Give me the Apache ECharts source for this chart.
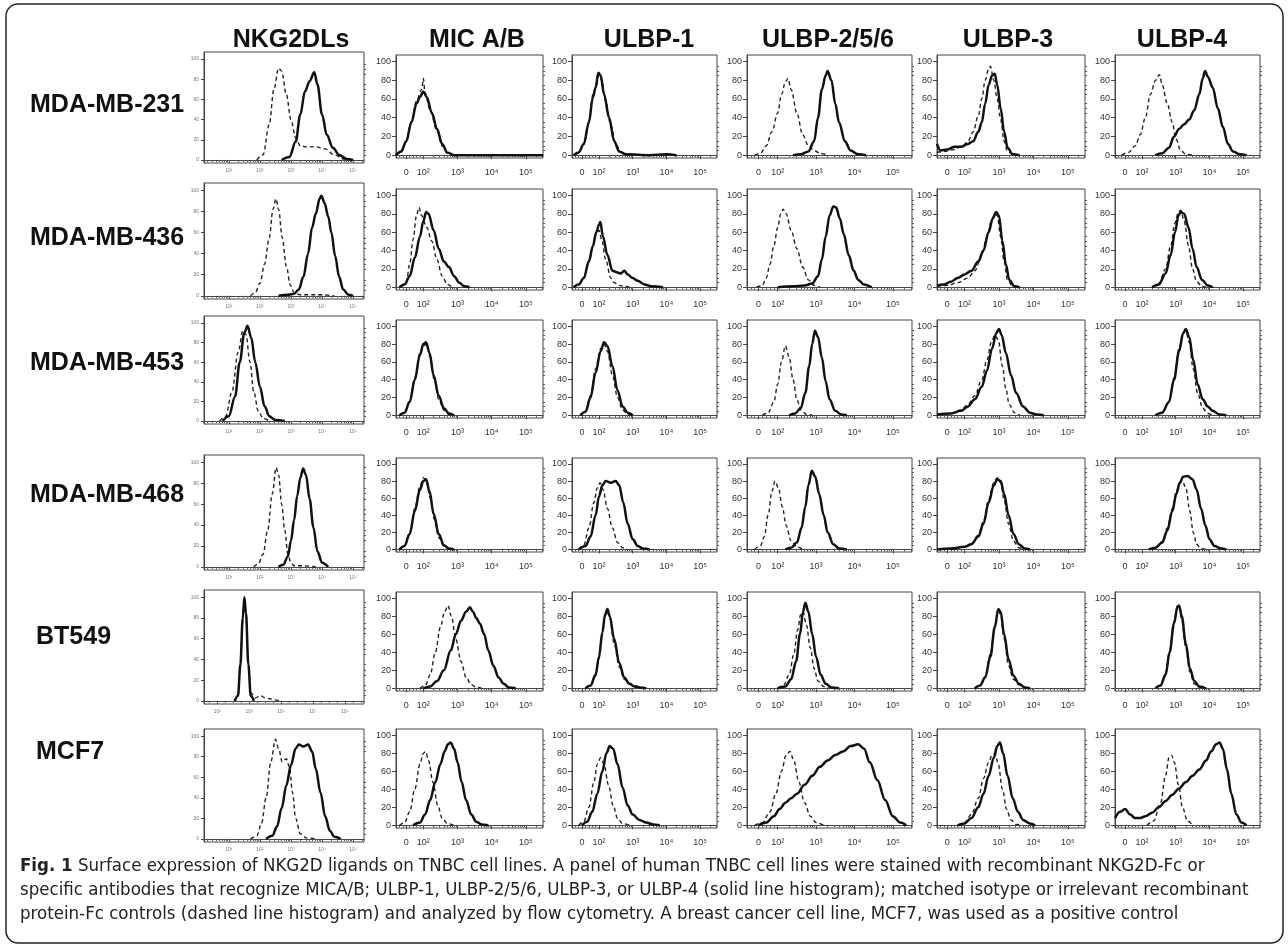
<!DOCTYPE html>
<html><head><meta charset="utf-8">
<script src="https://cdn.jsdelivr.net/npm/echarts@6/dist/echarts.min.js"></script>
<style>html,body{margin:0;padding:0;background:#fff}#c{width:1288px;height:948px}</style>
</head><body><div id="c"></div><script>
// ---------------- labels ----------------
const colTitles = ['NKG2DLs', 'MIC A/B', 'ULBP-1', 'ULBP-2/5/6', 'ULBP-3', 'ULBP-4'];
const rowLabels = ['MDA-MB-231', 'MDA-MB-436', 'MDA-MB-453', 'MDA-MB-468', 'BT549', 'MCF7'];
const yTickVals = [0, 20, 40, 60, 80, 100];
const flowTickPos = [1.5, 2, 3, 4, 5];
const flowTickText = ['0', '10²', '10³', '10⁴', '10⁵'];
const nkTickPos = [1, 2, 3, 4, 5];
const nkTickText = ['10¹', '10²', '10³', '10⁴', '10⁵'];
const btNkTickPos = [1, 3, 5, 7, 9];
const btNkTickText = ['10¹', '10³', '10⁵', '10⁷', '10⁹'];
const captionLines = [
  ['Fig. 1', ' Surface expression of NKG2D ligands on TNBC cell lines. A panel of human TNBC cell lines were stained with recombinant NKG2D-Fc or'],
  ['', 'specific antibodies that recognize MICA/B; ULBP-1, ULBP-2/5/6, ULBP-3, or ULBP-4 (solid line histogram); matched isotype or irrelevant recombinant'],
  ['', 'protein-Fc controls (dashed line histogram) and analyzed by flow cytometry. A breast cancer cell line, MCF7, was used as a positive control']
];

// ---------------- data: [log-decade display value, % of max] ----------------
// MDA-MB-231
const r231_nkg_solid = [[2.7,0],[2.95,3],[3.15,18],[3.3,45],[3.45,68],[3.6,78],[3.75,87],[3.85,75],[4.0,45],[4.15,25],[4.35,12],[4.55,5],[4.8,1],[5.0,0]];
const r231_nkg_dash  = [[1.9,0],[2.1,5],[2.3,35],[2.45,70],[2.6,91],[2.7,88],[2.85,65],[3.0,40],[3.15,22],[3.3,14],[3.5,13],[3.8,13],[4.1,11],[4.4,5],[4.7,1],[5.0,0]];
const r231_mic_solid = [[1.2,0],[1.35,4],[1.5,15],[1.65,35],[1.8,55],[1.9,62],[2.0,68],[2.1,62],[2.25,45],[2.4,28],[2.55,12],[2.7,3],[2.9,0],[5.5,0]];
const r231_mic_dash  = [[1.2,0],[1.35,3],[1.5,14],[1.65,36],[1.8,58],[1.95,70],[2.0,82],[2.05,66],[2.2,48],[2.4,26],[2.55,10],[2.7,2],[2.9,0]];
const r231_u1_solid  = [[1.25,0],[1.4,3],[1.55,12],[1.7,35],[1.82,62],[1.9,72],[1.98,88],[2.05,85],[2.15,65],[2.3,40],[2.45,15],[2.6,4],[2.8,1],[3.5,0],[4.0,1],[4.3,0]];
const r231_u1_dash   = [[1.25,0],[1.4,3],[1.55,12],[1.7,36],[1.82,65],[1.92,74],[2.0,86],[2.08,80],[2.2,58],[2.35,32],[2.5,12],[2.65,3],[2.85,0]];
const r231_u2_solid  = [[2.4,0],[2.6,1],[2.8,4],[2.95,15],[3.05,40],[3.15,70],[3.25,85],[3.3,90],[3.4,80],[3.5,55],[3.6,35],[3.75,15],[3.9,5],[4.1,1],[4.3,0]];
const r231_u2_dash   = [[1.4,0],[1.55,2],[1.7,10],[1.85,25],[2.0,45],[2.1,65],[2.2,78],[2.27,82],[2.35,70],[2.5,45],[2.65,22],[2.8,10],[2.95,5],[3.1,2],[3.3,0]];
const r231_u3_solid  = [[1.2,12],[1.3,5],[1.5,6],[1.7,9],[1.9,9],[2.1,12],[2.25,15],[2.4,25],[2.5,35],[2.6,55],[2.7,75],[2.8,85],[2.88,87],[2.95,75],[3.05,50],[3.15,25],[3.25,8],[3.4,1],[3.6,0]];
const r231_u3_dash   = [[1.2,3],[1.4,4],[1.7,6],[1.95,10],[2.1,15],[2.25,25],[2.4,42],[2.5,60],[2.6,80],[2.7,92],[2.75,95],[2.85,80],[2.95,60],[3.05,38],[3.15,15],[3.25,4],[3.4,0]];
const r231_u4_solid  = [[2.4,0],[2.6,2],[2.8,8],[2.95,20],[3.1,28],[3.25,33],[3.4,38],[3.55,48],[3.7,65],[3.8,82],[3.87,90],[3.95,84],[4.1,72],[4.25,50],[4.4,30],[4.55,12],[4.7,4],[4.9,1],[5.1,0]];
const r231_u4_dash   = [[1.4,0],[1.6,3],[1.8,10],[1.95,22],[2.1,40],[2.25,65],[2.4,80],[2.52,86],[2.6,75],[2.75,55],[2.9,35],[3.0,18],[3.15,5],[3.3,1],[3.5,0]];
// MDA-MB-436
const r436_nkg_solid = [[2.6,0],[2.9,1],[3.1,2],[3.25,6],[3.4,18],[3.55,40],[3.68,65],[3.8,78],[3.92,92],[3.98,95],[4.08,88],[4.2,75],[4.3,60],[4.42,38],[4.55,18],[4.68,6],[4.85,1],[5.0,0]];
const r436_nkg_dash  = [[1.7,0],[1.85,3],[2.0,12],[2.15,30],[2.3,55],[2.42,82],[2.52,92],[2.6,82],[2.72,55],[2.85,28],[2.98,10],[3.1,3],[3.3,1],[3.6,1],[4.0,1],[4.4,0]];
const r436_mic_solid = [[1.3,0],[1.45,3],[1.6,12],[1.75,32],[1.9,55],[2.0,72],[2.08,82],[2.15,80],[2.3,62],[2.45,42],[2.6,28],[2.75,22],[2.9,12],[3.05,5],[3.2,1],[3.35,0]];
const r436_mic_dash  = [[1.35,0],[1.5,5],[1.6,25],[1.7,52],[1.8,78],[1.87,87],[1.95,78],[2.1,65],[2.25,50],[2.4,30],[2.55,12],[2.7,3],[2.85,0]];
const r436_u1_solid  = [[1.25,0],[1.4,3],[1.55,10],[1.7,28],[1.82,45],[1.92,60],[2.0,68],[2.04,71],[2.12,55],[2.25,35],[2.4,18],[2.55,16],[2.65,15],[2.75,18],[2.85,14],[3.0,10],[3.15,7],[3.35,3],[3.55,1],[3.9,0]];
const r436_u1_dash   = [[1.25,0],[1.4,3],[1.55,10],[1.7,28],[1.82,45],[1.92,58],[2.0,62],[2.08,52],[2.2,30],[2.35,10],[2.45,5],[2.6,2],[2.75,1],[2.9,0]];
const r436_u2_solid  = [[2.0,0],[2.4,1],[2.7,2],[2.9,4],[3.05,12],[3.15,30],[3.25,55],[3.35,78],[3.45,88],[3.52,87],[3.62,75],[3.72,58],[3.85,35],[3.98,18],[4.1,8],[4.25,3],[4.45,0]];
const r436_u2_dash   = [[1.45,0],[1.6,2],[1.7,10],[1.8,25],[1.9,45],[2.0,65],[2.08,80],[2.14,85],[2.22,80],[2.35,62],[2.5,42],[2.65,22],[2.8,8],[2.95,2],[3.1,0]];
const r436_u3_solid  = [[1.2,2],[1.4,3],[1.6,6],[1.8,10],[2.0,14],[2.2,18],[2.4,28],[2.55,40],[2.7,60],[2.82,75],[2.92,82],[3.0,78],[3.1,50],[3.2,25],[3.3,8],[3.45,1],[3.6,0]];
const r436_u3_dash   = [[1.2,1],[1.5,2],[1.8,5],[2.1,10],[2.3,18],[2.5,35],[2.65,55],[2.78,72],[2.88,80],[2.95,78],[3.05,55],[3.15,28],[3.25,8],[3.4,1],[3.55,0]];
const r436_u4_solid  = [[2.3,0],[2.5,3],[2.7,15],[2.85,35],[2.98,60],[3.08,78],[3.15,82],[3.25,80],[3.38,65],[3.5,42],[3.62,22],[3.78,8],[3.95,2],[4.1,0]];
const r436_u4_dash   = [[2.3,0],[2.5,4],[2.7,20],[2.85,45],[2.98,70],[3.08,82],[3.15,84],[3.25,72],[3.38,45],[3.5,20],[3.62,6],[3.78,1],[3.9,0]];
// MDA-MB-453
const r453_nkg_solid = [[0.8,0],[1.0,5],[1.2,25],[1.35,60],[1.5,90],[1.6,97],[1.72,85],[1.85,60],[2.0,35],[2.15,15],[2.3,5],[2.5,1],[2.8,0]];
const r453_nkg_dash  = [[0.7,0],[0.9,5],[1.1,30],[1.3,70],[1.45,92],[1.55,88],[1.68,60],[1.8,30],[1.95,10],[2.1,3],[2.3,0]];
const r453_mic_solid = [[1.3,0],[1.45,3],[1.6,15],[1.75,40],[1.9,68],[2.0,80],[2.08,82],[2.18,70],[2.3,45],[2.45,22],[2.6,8],[2.75,2],[2.9,0]];
const r453_mic_dash  = [[1.3,0],[1.45,3],[1.6,16],[1.75,42],[1.9,70],[2.0,78],[2.1,80],[2.2,65],[2.32,40],[2.45,18],[2.6,6],[2.75,1],[2.9,0]];
const r453_u1_solid  = [[1.45,0],[1.6,4],[1.75,20],[1.9,48],[2.05,72],[2.15,82],[2.25,78],[2.4,55],[2.55,28],[2.7,10],[2.85,3],[3.0,0]];
const r453_u1_dash   = [[1.45,0],[1.6,5],[1.75,22],[1.9,52],[2.05,75],[2.15,80],[2.25,72],[2.4,45],[2.55,20],[2.7,6],[2.85,1],[3.0,0]];
const r453_u2_solid  = [[2.3,0],[2.45,2],[2.6,8],[2.72,25],[2.82,55],[2.9,80],[2.97,95],[3.05,88],[3.15,65],[3.25,38],[3.35,18],[3.5,5],[3.65,1],[3.8,0]];
const r453_u2_dash   = [[1.6,0],[1.75,3],[1.9,15],[2.0,35],[2.1,60],[2.2,78],[2.3,65],[2.4,40],[2.5,18],[2.6,6],[2.75,1],[2.9,0]];
const r453_u3_solid  = [[1.2,1],[1.6,2],[1.9,5],[2.1,10],[2.3,18],[2.5,32],[2.65,50],[2.8,75],[2.92,92],[3.0,97],[3.08,90],[3.2,70],[3.35,45],[3.5,25],[3.7,10],[3.9,3],[4.1,1],[4.3,0]];
const r453_u3_dash   = [[1.2,0],[1.6,2],[1.9,6],[2.1,12],[2.3,22],[2.5,40],[2.65,62],[2.78,82],[2.88,90],[2.98,85],[3.1,55],[3.2,30],[3.3,12],[3.45,3],[3.6,0]];
const r453_u4_solid  = [[2.4,0],[2.6,3],[2.8,15],[2.95,40],[3.1,72],[3.22,92],[3.3,97],[3.4,88],[3.52,62],[3.65,35],[3.8,18],[3.95,10],[4.1,5],[4.3,1],[4.5,0]];
const r453_u4_dash   = [[2.4,0],[2.6,3],[2.8,16],[2.95,42],[3.1,75],[3.22,92],[3.3,95],[3.4,82],[3.52,52],[3.65,25],[3.8,8],[3.95,2],[4.1,0]];
// MDA-MB-468
const r468_nkg_solid = [[2.6,0],[2.75,2],[2.9,10],[3.0,25],[3.1,45],[3.2,68],[3.3,85],[3.39,94],[3.48,88],[3.6,65],[3.72,38],[3.85,15],[4.0,4],[4.2,0]];
const r468_nkg_dash  = [[1.8,0],[1.95,3],[2.1,12],[2.25,35],[2.4,70],[2.52,95],[2.6,88],[2.7,60],[2.8,35],[2.9,12],[3.0,4],[3.1,1],[3.4,1],[3.8,0]];
const r468_mic_solid = [[1.3,0],[1.45,4],[1.6,18],[1.75,45],[1.9,70],[2.0,80],[2.08,82],[2.18,68],[2.3,42],[2.45,18],[2.6,5],[2.75,1],[2.9,0]];
const r468_mic_dash  = [[1.3,0],[1.45,4],[1.6,20],[1.75,48],[1.9,74],[2.0,84],[2.1,78],[2.2,60],[2.32,35],[2.45,14],[2.6,4],[2.75,0]];
const r468_u1_solid  = [[1.4,0],[1.6,4],[1.75,15],[1.9,40],[2.0,62],[2.1,75],[2.2,80],[2.35,78],[2.5,80],[2.6,75],[2.72,55],[2.85,30],[3.0,12],[3.15,4],[3.3,1],[3.5,0]];
const r468_u1_dash   = [[1.4,0],[1.55,5],[1.7,25],[1.85,55],[1.95,72],[2.03,78],[2.12,70],[2.25,48],[2.4,25],[2.55,8],[2.7,2],[2.85,0]];
const r468_u2_solid  = [[2.2,0],[2.35,2],[2.5,8],[2.62,25],[2.72,50],[2.8,75],[2.89,92],[2.98,85],[3.08,65],[3.2,40],[3.3,20],[3.45,6],[3.6,1],[3.8,0]];
const r468_u2_dash   = [[1.4,0],[1.55,4],[1.65,15],[1.75,40],[1.85,68],[1.93,80],[2.02,72],[2.12,50],[2.22,28],[2.35,10],[2.5,3],[2.65,0]];
const r468_u3_solid  = [[1.2,0],[1.6,1],[2.0,3],[2.2,6],[2.4,15],[2.55,30],[2.7,55],[2.85,75],[2.95,82],[3.05,80],[3.15,65],[3.28,40],[3.42,18],[3.58,6],[3.75,1],[3.9,0]];
const r468_u3_dash   = [[1.2,0],[1.6,1],[2.0,3],[2.2,7],[2.4,17],[2.55,33],[2.7,58],[2.85,78],[2.95,84],[3.05,78],[3.15,58],[3.28,30],[3.42,10],[3.58,2],[3.75,0]];
const r468_u4_solid  = [[2.2,0],[2.4,2],[2.6,8],[2.75,22],[2.9,45],[3.02,65],[3.12,78],[3.22,85],[3.35,86],[3.5,82],[3.62,70],[3.75,48],[3.88,28],[4.0,12],[4.15,4],[4.35,1],[4.5,0]];
const r468_u4_dash   = [[2.2,0],[2.4,2],[2.6,9],[2.75,25],[2.9,48],[3.02,68],[3.12,78],[3.2,80],[3.3,72],[3.42,45],[3.52,20],[3.62,6],[3.75,1],[3.9,0]];
// BT549
const bt549_nkg_solid = [[2.1,0],[2.3,5],[2.45,35],[2.6,80],[2.7,100],[2.8,85],[2.95,35],[3.1,5],[3.3,0]];
const bt549_nkg_dash  = [[2.1,0],[2.3,5],[2.45,33],[2.6,78],[2.7,98],[2.8,85],[2.95,35],[3.1,8],[3.4,3],[3.7,5],[4.0,3],[4.3,2],[4.6,1],[4.9,0]];
const bt549_mic_solid = [[2.0,0],[2.2,2],[2.4,8],[2.6,20],[2.8,42],[2.95,60],[3.1,75],[3.25,85],[3.36,90],[3.45,85],[3.55,78],[3.65,72],[3.78,60],[3.9,42],[4.05,25],[4.2,12],[4.35,5],[4.5,1],[4.7,0]];
const bt549_mic_dash  = [[1.9,0],[2.05,3],[2.2,15],[2.35,40],[2.5,68],[2.62,85],[2.72,92],[2.82,80],[2.95,55],[3.1,30],[3.25,12],[3.4,4],[3.55,1],[3.7,0]];
const bt549_u1_solid  = [[1.6,0],[1.75,3],[1.9,15],[2.0,35],[2.1,62],[2.18,82],[2.25,88],[2.32,80],[2.45,55],[2.6,28],[2.75,12],[2.9,5],[3.05,2],[3.2,1],[3.4,0]];
const bt549_u1_dash   = [[1.6,0],[1.75,3],[1.9,14],[2.0,33],[2.1,60],[2.18,80],[2.25,86],[2.32,78],[2.45,50],[2.6,24],[2.75,10],[2.9,6],[3.05,3],[3.25,1],[3.5,0]];
const bt549_u2_solid  = [[2.0,0],[2.2,2],[2.35,10],[2.48,30],[2.58,60],[2.66,85],[2.72,95],[2.8,85],[2.9,60],[3.0,35],[3.12,15],[3.25,5],[3.4,1],[3.6,0]];
const bt549_u2_dash   = [[2.0,0],[2.15,3],[2.3,15],[2.42,38],[2.52,65],[2.6,82],[2.66,85],[2.75,70],[2.85,45],[2.95,22],[3.05,8],[3.2,2],[3.35,0]];
const bt549_u3_solid  = [[2.3,0],[2.45,3],[2.6,12],[2.75,35],[2.88,68],[2.98,88],[3.05,85],[3.15,60],[3.28,32],[3.42,14],[3.58,5],[3.75,1],[3.9,0]];
const bt549_u3_dash   = [[2.3,0],[2.45,3],[2.6,13],[2.75,38],[2.88,70],[2.98,86],[3.05,82],[3.15,55],[3.28,25],[3.42,10],[3.58,4],[3.75,1],[3.9,0]];
const bt549_u4_solid  = [[2.4,0],[2.55,3],[2.7,15],[2.82,40],[2.95,72],[3.05,90],[3.1,92],[3.18,80],[3.3,50],[3.42,22],[3.55,8],[3.7,2],[3.9,0]];
const bt549_u4_dash   = [[2.4,0],[2.55,3],[2.7,16],[2.82,42],[2.95,74],[3.05,92],[3.1,90],[3.18,76],[3.3,45],[3.42,18],[3.55,5],[3.7,1],[3.9,0]];
// MCF7
const mcf7_nkg_solid = [[2.2,0],[2.4,3],[2.55,12],[2.7,30],[2.85,52],[3.0,72],[3.15,88],[3.25,92],[3.4,90],[3.55,92],[3.68,85],[3.8,68],[3.95,45],[4.1,22],[4.25,8],[4.4,2],[4.6,0]];
const mcf7_nkg_dash  = [[1.7,0],[1.9,3],[2.05,15],[2.2,40],[2.35,75],[2.5,97],[2.6,88],[2.72,75],[2.85,78],[2.95,70],[3.05,45],[3.15,20],[3.3,5],[3.5,1],[3.8,0]];
const mcf7_mic_solid = [[1.7,0],[1.9,3],[2.05,12],[2.2,28],[2.35,48],[2.5,68],[2.62,82],[2.72,90],[2.8,92],[2.9,85],[3.0,70],[3.12,48],[3.25,28],[3.4,12],[3.55,4],[3.7,1],[3.9,0]];
const mcf7_mic_dash  = [[1.3,0],[1.45,3],[1.6,15],[1.75,40],[1.9,68],[2.0,80],[2.07,82],[2.15,72],[2.28,48],[2.42,22],[2.55,8],[2.7,2],[2.9,0]];
const mcf7_u1_solid  = [[1.5,0],[1.65,4],[1.8,15],[1.95,35],[2.1,60],[2.22,80],[2.32,88],[2.42,85],[2.55,68],[2.7,42],[2.85,22],[3.0,12],[3.2,6],[3.4,3],[3.6,1],[3.8,0]];
const mcf7_u1_dash   = [[1.4,0],[1.55,4],[1.7,20],[1.85,48],[1.95,68],[2.05,75],[2.15,68],[2.28,45],[2.42,22],[2.55,8],[2.7,2],[2.9,0]];
const mcf7_u2_solid  = [[1.5,0],[1.7,3],[1.9,10],[2.05,18],[2.2,25],[2.35,30],[2.5,35],[2.7,45],[2.9,55],[3.1,65],[3.3,72],[3.5,78],[3.7,82],[3.9,88],[4.1,90],[4.25,85],[4.4,70],[4.6,50],[4.8,28],[5.0,10],[5.2,3],[5.35,0]];
const mcf7_u2_dash   = [[1.4,0],[1.6,3],[1.8,15],[1.95,35],[2.1,60],[2.22,78],[2.32,82],[2.42,72],[2.55,48],[2.7,25],[2.85,10],[3.0,3],[3.2,0]];
const mcf7_u3_solid  = [[1.8,0],[2.0,2],[2.2,8],[2.4,20],[2.55,35],[2.7,55],[2.85,75],[2.95,88],[3.03,92],[3.12,80],[3.25,55],[3.4,30],[3.55,15],[3.7,6],[3.9,2],[4.05,0]];
const mcf7_u3_dash   = [[1.8,0],[2.0,3],[2.2,12],[2.4,30],[2.55,52],[2.7,70],[2.8,78],[2.88,80],[2.98,68],[3.1,40],[3.22,18],[3.35,6],[3.5,1],[3.65,0]];
const mcf7_u4_solid  = [[1.2,8],[1.35,15],[1.5,18],[1.65,12],[1.8,8],[1.95,8],[2.1,10],[2.3,14],[2.5,20],[2.7,27],[2.9,34],[3.1,41],[3.3,48],[3.5,55],[3.7,62],[3.9,72],[4.05,82],[4.2,90],[4.3,92],[4.4,85],[4.52,62],[4.65,35],[4.8,12],[4.95,3],[5.1,0]];
const mcf7_u4_dash   = [[2.15,0],[2.35,5],[2.55,25],[2.7,55],[2.8,75],[2.88,78],[2.96,70],[3.08,45],[3.2,20],[3.35,5],[3.5,0]];

// panel table built from the named arrays: [solid, dashed]
const panels = [
  [[r231_nkg_solid,r231_nkg_dash],[r231_mic_solid,r231_mic_dash],[r231_u1_solid,r231_u1_dash],[r231_u2_solid,r231_u2_dash],[r231_u3_solid,r231_u3_dash],[r231_u4_solid,r231_u4_dash]],
  [[r436_nkg_solid,r436_nkg_dash],[r436_mic_solid,r436_mic_dash],[r436_u1_solid,r436_u1_dash],[r436_u2_solid,r436_u2_dash],[r436_u3_solid,r436_u3_dash],[r436_u4_solid,r436_u4_dash]],
  [[r453_nkg_solid,r453_nkg_dash],[r453_mic_solid,r453_mic_dash],[r453_u1_solid,r453_u1_dash],[r453_u2_solid,r453_u2_dash],[r453_u3_solid,r453_u3_dash],[r453_u4_solid,r453_u4_dash]],
  [[r468_nkg_solid,r468_nkg_dash],[r468_mic_solid,r468_mic_dash],[r468_u1_solid,r468_u1_dash],[r468_u2_solid,r468_u2_dash],[r468_u3_solid,r468_u3_dash],[r468_u4_solid,r468_u4_dash]],
  [[bt549_nkg_solid,bt549_nkg_dash],[bt549_mic_solid,bt549_mic_dash],[bt549_u1_solid,bt549_u1_dash],[bt549_u2_solid,bt549_u2_dash],[bt549_u3_solid,bt549_u3_dash],[bt549_u4_solid,bt549_u4_dash]],
  [[mcf7_nkg_solid,mcf7_nkg_dash],[mcf7_mic_solid,mcf7_mic_dash],[mcf7_u1_solid,mcf7_u1_dash],[mcf7_u2_solid,mcf7_u2_dash],[mcf7_u3_solid,mcf7_u3_dash],[mcf7_u4_solid,mcf7_u4_dash]]
];

// ---------------- layout (pixels) ----------------
const colX = [[204,364],[396,543],[572,717],[747,912],[937,1085],[1115,1260]];
const rowYNk = [[52,163],[183,299],[316,424],[455,570],[590,704],[729,842]];
const rowY = [[55,158],[189,290],[320,418],[458,552],[592,691],[729,828]];
const titleX = [291, 477, 649, 828, 1008, 1182];
const rowLabelY = [105, 238, 363, 495, 637, 752];
const rowLabelX = [30, 30, 30, 30, 36, 36];

const FONT = '"Liberation Sans", Arial, Helvetica, sans-serif';
function fmtFrom(pos, txt) {
  return function (v) {
    for (let i = 0; i < pos.length; i++) if (Math.abs(pos[i] - v) < 1e-6) return txt[i];
    return '';
  };
}
function logMinors(lo, hi, fromDec, toDec) {
  const out = [];
  for (let d = fromDec; d <= toDec; d++) for (let k = 1; k <= 9; k++) {
    const v = d + Math.log10(k);
    if (v > lo && v < hi) out.push(+v.toFixed(4));
  }
  return out;
}

const grids = [], xAxes = [], yAxes = [], series = [];
let g = 0;
for (let r = 0; r < 6; r++) {
  for (let c = 0; c < 6; c++) {
    const isNk = c === 0;
    const [x0, x1] = colX[c];
    const [y0, y1] = isNk ? rowYNk[r] : rowY[r];
    grids.push({ left: x0, top: y0, width: x1 - x0, height: y1 - y0, show: true,
      borderColor: '#444', borderWidth: 1, backgroundColor: 'transparent' });
    let xmin, xmax, tpos, ttxt, minors;
    if (isNk && r === 4) {
      xmin = 0.17; xmax = 10.2; tpos = btNkTickPos; ttxt = btNkTickText;
      minors = []; for (let v = 0.5; v < 10.2; v += 0.5) minors.push(v);
    } else if (isNk) {
      xmin = 0.2; xmax = 5.35; tpos = nkTickPos; ttxt = nkTickText;
      minors = logMinors(0.2, 5.35, 0, 5);
    } else {
      xmin = 1.2; xmax = 5.5; tpos = flowTickPos; ttxt = flowTickText;
      minors = [1.3, 1.4, 1.6, 1.7, 1.8, 1.9].concat(logMinors(2, 5.5, 2, 5));
    }
    const lblSize = isNk ? 5 : 9;
    const lblColor = isNk ? '#777' : '#333';
    xAxes.push({ gridIndex: g, type: 'value', min: xmin, max: xmax, position: 'bottom',
      axisLine: { show: true, lineStyle: { color: '#444', width: 1 } },
      splitLine: { show: false },
      axisTick: { show: true, inside: false, length: isNk ? 3 : 4, customValues: tpos, lineStyle: { color: '#444' } },
      axisLabel: { show: true, customValues: tpos, formatter: fmtFrom(tpos, ttxt), fontSize: lblSize,
        color: lblColor, fontFamily: FONT, margin: isNk ? 5 : 10 } });
    xAxes.push({ gridIndex: g, type: 'value', min: xmin, max: xmax, position: 'bottom',
      axisLine: { show: false }, splitLine: { show: false }, axisLabel: { show: false },
      axisTick: { show: true, inside: false, length: 2, customValues: minors, lineStyle: { color: '#555' } } });
    yAxes.push({ gridIndex: g, type: 'value', min: -3, max: 107,
      axisLine: { show: true, lineStyle: { color: '#444', width: 1 } },
      splitLine: { show: false },
      axisTick: { show: true, inside: false, length: isNk ? 3 : 4, customValues: yTickVals, lineStyle: { color: '#444' } },
      axisLabel: { show: true, customValues: yTickVals, fontSize: lblSize, color: lblColor, fontFamily: FONT, margin: 5 } });
    const yMinor = []; for (let v = 5; v < 105; v += 5) if (v % 20) yMinor.push(v);
    yAxes.push({ gridIndex: g, type: 'value', min: -3, max: 107,
      axisLine: { show: false }, splitLine: { show: false }, axisLabel: { show: false },
      axisTick: { show: true, inside: false, length: 2, customValues: yMinor, lineStyle: { color: '#555' } } });
    const [solid, dashed] = panels[r][c];
    series.push({ type: 'line', xAxisIndex: 2 * g, yAxisIndex: 2 * g, data: dashed, showSymbol: false,
      smooth: 0.35, smoothMonotone: 'x', silent: true, z: 2,
      lineStyle: { color: '#222', width: 1.4, type: [4, 3] } });
    series.push({ type: 'line', xAxisIndex: 2 * g, yAxisIndex: 2 * g, data: solid, showSymbol: false,
      smooth: 0.35, smoothMonotone: 'x', silent: true, z: 3,
      lineStyle: { color: '#111', width: 2.5 } });
    g++;
  }
}

const graphics = [
  { type: 'rect', shape: { x: 6, y: 4, width: 1277, height: 939, r: 12 }, style: { fill: 'none', stroke: '#222', lineWidth: 1.5 }, z: 0 }
];
colTitles.forEach((t, i) => graphics.push({ type: 'text', x: titleX[i], y: 40,
  style: { text: t, font: 'bold 25px ' + FONT, fill: '#111', textAlign: 'center', textVerticalAlign: 'middle' } }));
rowLabels.forEach((t, i) => graphics.push({ type: 'text', x: rowLabelX[i], y: rowLabelY[i],
  style: { text: t, font: 'bold 25px ' + FONT, fill: '#111', textAlign: 'left', textVerticalAlign: 'middle' } }));
const CAPFONT = '"Liberation Sans Narrow", "DejaVu Sans Condensed", "Liberation Sans", sans-serif';
captionLines.forEach((ln, i) => graphics.push({ type: 'text', x: 20, y: 866 + i * 24,
  style: { text: (ln[0] ? '{b|' + ln[0] + '}' : '') + '{n|' + ln[1] + '}', textVerticalAlign: 'middle',
    rich: { b: { fontFamily: CAPFONT, fontWeight: 'bold', fontSize: 18.5, fill: '#222', color: '#222' },
            n: { fontFamily: CAPFONT, fontSize: 18.5, fill: '#222', color: '#222' } } } }));

const chart = echarts.init(document.getElementById('c'), null, { renderer: 'canvas', width: 1288, height: 948 });
chart.setOption({ animation: false, backgroundColor: '#fff', grid: grids, xAxis: xAxes, yAxis: yAxes, series: series, graphic: graphics });
</script></body></html>
